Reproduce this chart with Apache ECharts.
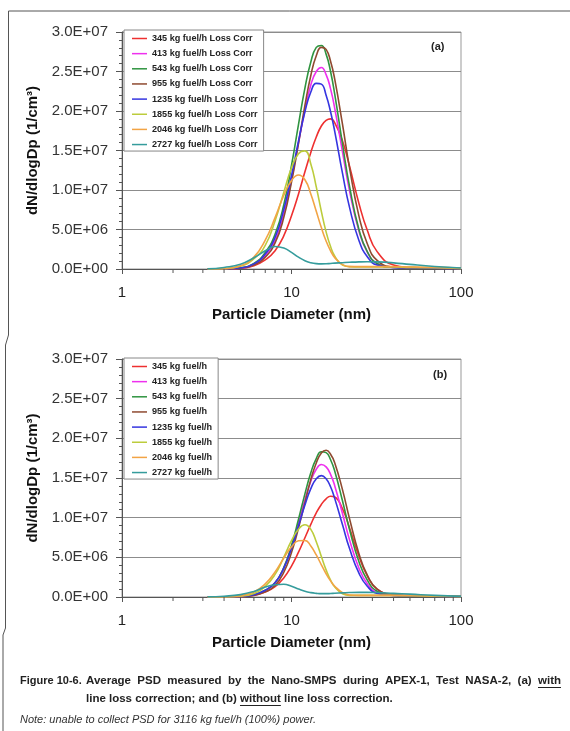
<!DOCTYPE html>
<html><head><meta charset="utf-8">
<script src="https://cdn.jsdelivr.net/npm/echarts@6/dist/echarts.min.js"></script>
<style>html,body{margin:0;padding:0;background:#fff}#c{width:570px;height:731px}</style>
</head><body><div id="c"></div>
<script>
// particle diameters (nm)
const diameters = [3.2,4,5,6,7,8,9,10,11,12,13,14,15,16,17,18,20,22,25,28,32,40,50,70,100];
const seriesNamesA = ['345 kg fuel/h Loss Corr','413 kg fuel/h Loss Corr','543 kg fuel/h Loss Corr','955 kg fuel/h Loss Corr','1235 kg fuel/h Loss Corr','1855 kg fuel/h Loss Corr','2046 kg fuel/h Loss Corr','2727 kg fuel/h Loss Corr'];
const seriesNamesB = ['345 kg fuel/h','413 kg fuel/h','543 kg fuel/h','955 kg fuel/h','1235 kg fuel/h','1855 kg fuel/h','2046 kg fuel/h','2727 kg fuel/h'];
const colors = ['#ee3030','#ee30ee','#2f9440','#8f4a30','#3535e0','#bccc3c','#f2a445','#359c9c'];
// dN/dlogDp values in units of 1e6 per cm3 -- (a) with line loss correction
const a345  = [0,0.01,0.1,0.4,1.15,2.3,4.2,6.75,9.5,12.3,14.75,16.7,18.1,18.8,19.0,18.5,16.2,13.0,8.3,4.9,2.2,0.5,0.2,0.12,0.05];
const a413  = [0,0.01,0.1,0.55,1.7,3.6,6.9,11.3,16.0,20.1,23.3,25.0,25.5,24.6,22.8,20.3,14.8,9.9,4.8,2.15,0.7,0.2,0.15,0.1,0.05];
const a543  = [0,0.01,0.15,0.7,2.1,4.4,8.1,13.1,18.3,22.9,26.2,28.05,28.3,27.2,25.0,22.1,15.8,10.45,5.0,2.2,0.7,0.2,0.15,0.1,0.05];
const a955  = [0,0.01,0.1,0.5,1.5,3.3,6.5,11.0,15.9,20.7,24.5,27.0,28.05,27.8,26.3,24.0,18.3,12.8,6.7,3.2,1.1,0.25,0.15,0.1,0.05];
const a1235 = [0,0.01,0.15,0.65,1.9,4.0,7.5,11.8,16.2,19.9,22.4,23.5,23.4,22.0,19.9,17.4,12.1,7.8,3.6,1.55,0.5,0.2,0.15,0.1,0.05];
const a1855 = [0,0.05,0.35,1.3,3.0,6.1,9.7,12.8,14.6,14.95,13.3,10.4,7.3,4.7,2.84,1.62,0.5,0.3,0.25,0.25,0.25,0.25,0.2,0.15,0.05];
const a2046 = [0,0.05,0.4,1.5,3.65,6.5,9.3,11.2,11.9,11.3,9.5,7.3,5.24,3.54,2.3,1.44,0.55,0.3,0.3,0.3,0.3,0.3,0.25,0.2,0.1];
const a2727 = [0.02,0.2,0.6,1.43,2.3,2.85,2.65,2.1,1.5,1.05,0.8,0.68,0.65,0.66,0.7,0.74,0.8,0.85,0.9,0.92,0.9,0.78,0.58,0.32,0.12];
// (b) without line loss correction
const b345  = [0,0.005,0.06,0.22,0.62,1.3,2.4,3.9,5.65,7.47,9.16,10.6,11.67,12.37,12.7,12.6,11.1,8.7,5.14,2.68,1.0,0.3,0.2,0.12,0.05];
const b413  = [0,0.003,0.05,0.25,0.8,1.8,3.65,6.33,9.35,12.26,14.6,16.1,16.7,16.4,15.46,14.0,10.5,7.2,3.63,1.68,0.55,0.2,0.15,0.1,0.05];
const b543  = [0,0.003,0.06,0.28,0.85,1.8,3.7,6.5,9.8,13.0,15.66,17.45,18.3,18.2,17.3,15.85,12.1,8.5,4.44,2.13,0.73,0.2,0.15,0.1,0.05];
const b955  = [0,0.002,0.04,0.2,0.65,1.45,3.1,5.62,8.7,11.9,14.8,16.9,18.16,18.5,18.0,16.9,13.5,9.87,5.46,2.75,1.0,0.25,0.15,0.1,0.05];
const b1235 = [0,0.003,0.06,0.3,0.85,1.8,3.6,6.15,8.97,11.6,13.66,14.9,15.3,14.9,13.9,12.4,9.1,6.1,3.0,1.35,0.45,0.2,0.15,0.1,0.05];
const b1855 = [0,0.01,0.1,0.45,1.35,2.85,4.99,7.1,8.55,9.1,8.53,6.97,5.1,3.42,2.14,1.27,0.4,0.2,0.2,0.2,0.2,0.2,0.15,0.1,0.05];
const b2046 = [0,0.02,0.15,0.62,1.65,3.16,4.9,6.32,7.08,7.13,6.43,5.3,4.06,2.93,2.03,1.35,0.55,0.25,0.2,0.2,0.2,0.2,0.18,0.12,0.06];
const b2727 = [0.02,0.1,0.3,0.7,1.25,1.55,1.6,1.35,1.0,0.72,0.55,0.46,0.42,0.42,0.44,0.47,0.52,0.56,0.58,0.58,0.56,0.46,0.36,0.2,0.08];
const valuesA = [a345,a413,a543,a955,a1235,a1855,a2046,a2727];
const valuesB = [b345,b413,b543,b955,b1235,b1855,b2046,b2727];
// axis tick positions (log x axis minor ticks)
const xMinorTicks = [2,3,4,5,6,7,8,9,20,30,40,50,60,70,80,90];

const FONT = '"Liberation Sans", Arial, sans-serif';
function sci(v){
  if (v === 0) return '0.0E+00';
  const e = Math.floor(Math.log10(v) + 1e-9);
  const m = v / Math.pow(10, e);
  return m.toFixed(1) + 'E+' + String(e).padStart(2, '0');
}

const grids = [
  {left:122, top:32, width:339, height:237},
  {left:122, top:359, width:339, height:238}
];

function xAxisFor(i){
  return {type:'log', logBase:10, min:1, max:100, gridIndex:i,
    axisLine:{show:true, lineStyle:{color:'#555', width:1}},
    axisTick:{show:true, length:5, lineStyle:{color:'#555'}},
    axisLabel:{fontSize:15, color:'#222', margin:16, fontFamily:FONT},
    splitLine:{show:false},
    name:'Particle Diameter (nm)', nameLocation:'middle', nameGap:38,
    nameTextStyle:{fontSize:15, fontWeight:'bold', color:'#111', fontFamily:FONT}};
}
function yAxisFor(i){
  return {type:'value', min:0, max:3e7, interval:5e6, gridIndex:i,
    axisLine:{show:true, lineStyle:{color:'#555', width:1}},
    axisTick:{show:true, length:6, lineStyle:{color:'#555'}},
    minorTick:{show:true, splitNumber:5, length:3, lineStyle:{color:'#555'}},
    splitLine:{show:true, lineStyle:{color:'#8c8c8c', width:1}},
    axisLabel:{formatter:sci, fontSize:15, color:'#333', margin:14, fontFamily:FONT},
    name:'dN/dlogDp (1/cm³)', nameLocation:'middle', nameGap:80, nameRotate:90,
    nameTextStyle:{fontSize:15, fontWeight:'bold', color:'#111', fontFamily:FONT}};
}

const series = [];
function addSeries(names, vals, gi){
  names.forEach((n, k) => {
    series.push({type:'line', name:n, xAxisIndex:gi, yAxisIndex:gi,
      data: diameters.map((d, j) => [d, vals[k][j] * 1e6]),
      symbol:'none', smooth:0.5,
      lineStyle:{width:1.6, color:colors[k]}, itemStyle:{color:colors[k]},
      emphasis:{disabled:true}, z:2+k});
  });
  series.push({type:'custom', xAxisIndex:gi, yAxisIndex:gi, silent:true, clip:false, z:20,
    data: xMinorTicks.map(v => [v, 0]),
    renderItem:(params, api) => {
      const p = api.coord([api.value(0), api.value(1)]);
      return {type:'line', shape:{x1:p[0], y1:p[1], x2:p[0], y2:p[1]+4}, style:{stroke:'#555', lineWidth:1}};
    }});
}
addSeries(seriesNamesA, valuesA, 0);
addSeries(seriesNamesB, valuesB, 1);

function legendFor(names, top){
  return {orient:'vertical', left:124, top:top, itemWidth:15, itemHeight:11, itemGap:4.15,
    padding:[3,6,1,8], backgroundColor:'#fff', borderColor:'#888', borderWidth:1,
    selectedMode:false, data:names.map(n => ({name:n, icon:'path://M0,0h30v3h-30z'})),
    textStyle:{fontSize:9.1, fontWeight:'bold', color:'#222', fontFamily:FONT, lineHeight:11}};
}

// caption
const capFont = 'bold 11.5px ' + FONT;
const figFont = 'bold 11px ' + FONT;
const line1Words = ['Average','PSD','measured','by','the','Nano-SMPS','during','APEX-1,','Test','NASA-2,','(a)','with'];
const cap2a = 'line loss correction; and (b) ';
const cap2u = 'without';
const cap2b = ' line loss correction.';
const note = 'Note: unable to collect PSD for 3116 kg fuel/h (100%) power.';
const ctx = document.createElement('canvas').getContext('2d');
ctx.font = capFont;
const capX = 86, capRight = 561, y1 = 681, y2 = 699, y3 = 720;
const wordW = line1Words.map(w => ctx.measureText(w).width);
const totalW = wordW.reduce((s, w) => s + w, 0);
const gap = (capRight - capX - totalW) / (line1Words.length - 1);
const w2 = ctx.measureText(cap2a).width, wu2 = ctx.measureText(cap2u).width;

const graphics = [
  {type:'polyline', shape:{points:[[570,11],[8.5,11],[8.5,335],[5.5,345],[5.5,628],[3,635],[3,731]]}, style:{stroke:'#555', lineWidth:1, fill:null}, silent:true},
  {type:'text', x:20, y:y1, style:{text:'Figure 10-6.', font:figFont, fill:'#222', verticalAlign:'middle'}}
];
let cx = capX;
line1Words.forEach((w, i) => {
  graphics.push({type:'text', x:cx, y:y1, style:{text:w, font:capFont, fill:'#222', verticalAlign:'middle'}});
  if (i === line1Words.length - 1) {
    graphics.push({type:'line', shape:{x1:cx, y1:y1+6.5, x2:cx+wordW[i], y2:y1+6.5}, style:{stroke:'#222', lineWidth:1}});
  }
  cx += wordW[i] + gap;
});
graphics.push(
  {type:'text', x:capX, y:y2, style:{text:cap2a + cap2u + cap2b, font:capFont, fill:'#222', verticalAlign:'middle'}},
  {type:'line', shape:{x1:capX+w2, y1:y2+6.5, x2:capX+w2+wu2, y2:y2+6.5}, style:{stroke:'#222', lineWidth:1}},
  {type:'text', x:20, y:y3, style:{text:note, font:'italic 11px ' + FONT, fill:'#333', verticalAlign:'middle'}}
);

const chart = echarts.init(document.getElementById('c'), null, {renderer:'canvas'});
chart.setOption({
  animation:false,
  backgroundColor:'#fff',
  textStyle:{fontFamily:FONT},
  grid: grids.map(g => Object.assign({show:true, borderColor:'#999', borderWidth:1, backgroundColor:'transparent'}, g)),
  xAxis:[xAxisFor(0), xAxisFor(1)],
  yAxis:[yAxisFor(0), yAxisFor(1)],
  legend:[legendFor(seriesNamesA, 30), legendFor(seriesNamesB, 358)],
  title:[
    {text:'(a)', left:431, top:41, padding:0, textStyle:{fontSize:11, fontWeight:'bold', color:'#222'}},
    {text:'(b)', left:433, top:369, padding:0, textStyle:{fontSize:11, fontWeight:'bold', color:'#222'}}
  ],
  graphic: graphics,
  series: series
});
</script>
</body></html>
